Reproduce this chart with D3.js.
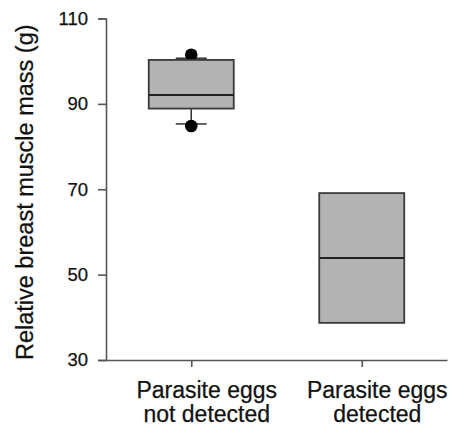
<!DOCTYPE html>
<html>
<head>
<meta charset="utf-8">
<script src="https://cdn.jsdelivr.net/npm/d3@7"></script>
<style>
  html, body { margin: 0; padding: 0; background: #fff; }
  text { font-family: "Liberation Sans", Arial, Helvetica, sans-serif; fill: #111; stroke: #111; stroke-width: 0.25px; }
</style>
</head>
<body>
<svg id="chart" width="454" height="430"></svg>
<script>
// ---- data ----
const categories = ["not", "det"];
const categoryLines = [["Parasite eggs", "not detected"], ["Parasite eggs", "detected"]];
const q1 = [88.9, 38.7];
const median = [92.1, 53.9];
const q3 = [100.3, 69.1];
const whiskerLow = [85.3, null];
const whiskerHigh = [100.7, null];
const outliers = [[101.5, 84.8], []];
const yTicks = [30, 50, 70, 90, 110];
const yLabel = "Relative breast muscle mass (g)";

// ---- layout ----
const svg = d3.select("#chart");
const mLeft = 106, mRight = 447, mTop = 18.5, mBottom = 360;
const y = d3.scaleLinear().domain([30, 110]).range([mBottom, mTop]);
const x = d3.scalePoint().domain(categories).range([mLeft, mRight]).padding(0.5);
const boxW = 85, capW = 31;
const axisColor = "#555";

// y axis
const yAxis = svg.append("g").attr("transform", `translate(${mLeft},0)`)
  .call(d3.axisLeft(y).tickValues(yTicks).tickSize(8).tickPadding(10).tickFormat(d3.format("d")));
yAxis.select(".domain").attr("stroke", axisColor).attr("stroke-width", 1.6);
yAxis.selectAll(".tick line").attr("stroke", axisColor).attr("stroke-width", 1.6);
yAxis.selectAll(".tick text").attr("font-size", 18.5).attr("fill", "#111")
  .style("font-family", "'Liberation Sans', Arial, sans-serif");

// x axis
const xAxis = svg.append("g").attr("transform", `translate(0,${mBottom})`)
  .call(d3.axisBottom(x).tickSize(7).tickSizeOuter(0).tickFormat(""));
xAxis.select(".domain").attr("stroke", axisColor).attr("stroke-width", 1.6);
xAxis.selectAll(".tick line").attr("stroke", axisColor).attr("stroke-width", 1.6);

// x labels
categories.forEach((c, i) => {
  const t = svg.append("text")
    .attr("text-anchor", "middle")
    .attr("font-size", 23);
  categoryLines[i].forEach((line, j) => {
    t.append("tspan").attr("x", x(c) + 15.5).attr("y", 398 + j * 24).text(line);
  });
});

// y label
svg.append("text")
  .attr("transform", `translate(33,${(mTop + mBottom) / 2 + 3}) rotate(-90)`)
  .attr("text-anchor", "middle")
  .attr("font-size", 23.5)
  .text(yLabel);

// boxes
const g = svg.append("g");
categories.forEach((c, i) => {
  const cx = x(c);
  if (whiskerHigh[i] != null) {
    g.append("line").attr("x1", cx).attr("x2", cx).attr("y1", y(q3[i])).attr("y2", y(whiskerHigh[i]))
      .attr("stroke", "#333").attr("stroke-width", 1.5);
    g.append("line").attr("x1", cx - capW / 2).attr("x2", cx + capW / 2)
      .attr("y1", y(whiskerHigh[i])).attr("y2", y(whiskerHigh[i]))
      .attr("stroke", "#333").attr("stroke-width", 1.5);
  }
  if (whiskerLow[i] != null) {
    g.append("line").attr("x1", cx).attr("x2", cx).attr("y1", y(q1[i])).attr("y2", y(whiskerLow[i]))
      .attr("stroke", "#333").attr("stroke-width", 1.5);
    g.append("line").attr("x1", cx - capW / 2).attr("x2", cx + capW / 2)
      .attr("y1", y(whiskerLow[i])).attr("y2", y(whiskerLow[i]))
      .attr("stroke", "#333").attr("stroke-width", 1.5);
  }
  outliers[i].forEach(v => {
    g.append("circle").attr("cx", cx).attr("cy", y(v)).attr("r", 6.3).attr("fill", "#000");
  });
  g.append("rect")
    .attr("x", cx - boxW / 2).attr("width", boxW)
    .attr("y", y(q3[i])).attr("height", y(q1[i]) - y(q3[i]))
    .attr("fill", "#b3b3b3").attr("stroke", "#3a3a3a").attr("stroke-width", 1.8);
  g.append("line")
    .attr("x1", cx - boxW / 2).attr("x2", cx + boxW / 2)
    .attr("y1", y(median[i])).attr("y2", y(median[i]))
    .attr("stroke", "#222").attr("stroke-width", 2);
});
</script>
</body>
</html>
